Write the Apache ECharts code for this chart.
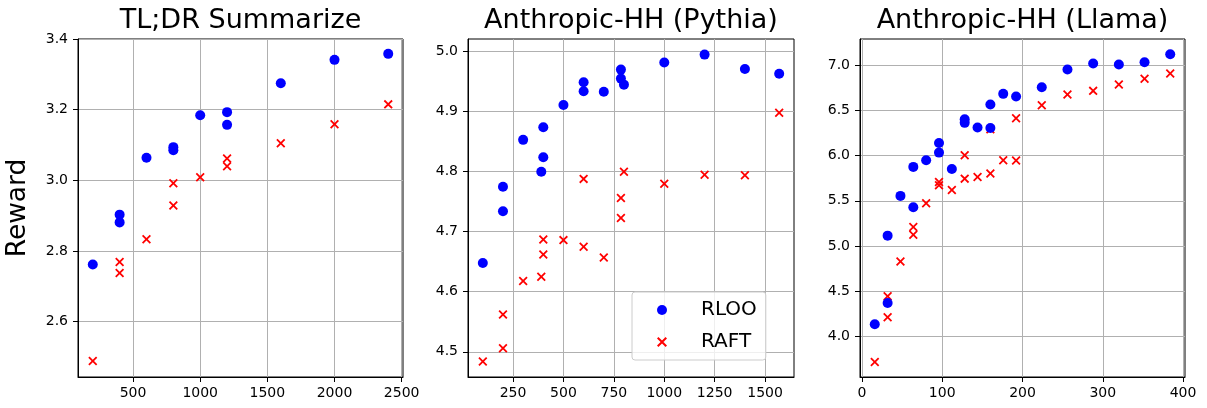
<!DOCTYPE html>
<html>
<head>
<meta charset="utf-8">
<script src="https://cdn.jsdelivr.net/npm/echarts@6/dist/echarts.min.js"></script>
<style>
    html, body { margin: 0; padding: 0; background: #fff; }
    #main { width: 1207px; height: 408px; }
</style>
</head>
<body>
<div id="main"></div>
<script>
// TL;DR
const tldrX = [200, 400, 400, 600, 800, 800, 1000, 1200, 1200, 1600, 2000, 2400]
const tldrRloo = [2.762, 2.903, 2.881, 3.064, 3.094, 3.085, 3.184, 3.193, 3.157, 3.275, 3.341, 3.358]
const tldrRaft = [2.489, 2.769, 2.738, 2.833, 2.992, 2.929, 3.009, 3.062, 3.040, 3.105, 3.159, 3.215]

// Anthropic-HH (Pythia)
const pythiaX = [100, 200, 200, 300, 400, 400, 390, 500, 600, 600, 700, 785, 785, 800, 1000, 1200, 1400, 1570]
const pythiaRloo = [4.648, 4.775, 4.734, 4.853, 4.874, 4.824, 4.800, 4.911, 4.949, 4.934, 4.933, 4.970, 4.955, 4.945, 4.982, 4.995, 4.971, 4.963]
const pythiaRaft = [4.484, 4.562, 4.506, 4.618, 4.687, 4.662, 4.625, 4.686, 4.788, 4.675, 4.657, 4.756, 4.723, 4.800, 4.780, 4.795, 4.794, 4.898]

// Anthropic-HH (Llama)
const llamaRlooX = [16, 32, 32, 48, 64, 64, 80, 96, 96, 112, 128, 128, 144, 160, 160, 176, 192, 224, 256, 288, 320, 352, 384]
const llamaRloo = [4.133, 5.114, 4.369, 5.554, 5.875, 5.428, 5.948, 6.140, 6.033, 5.852, 6.402, 6.362, 6.310, 6.565, 6.306, 6.683, 6.653, 6.756, 6.952, 7.018, 7.007, 7.033, 7.122]
const llamaRaftX = [16, 32, 32, 48, 64, 64, 80, 96, 96, 112, 128, 128, 144, 160, 160, 176, 192, 192, 224, 256, 288, 320, 352, 384]
const llamaRaft = [3.716, 4.443, 4.210, 4.827, 5.210, 5.125, 5.472, 5.708, 5.672, 5.620, 6.004, 5.745, 5.764, 5.801, 6.290, 5.948, 6.413, 5.945, 6.557, 6.675, 6.716, 6.786, 6.849, 6.908]

// tick labels
const titles = ['TL;DR Summarize', 'Anthropic-HH (Pythia)', 'Anthropic-HH (Llama)']
const xTicks = [[500, 1000, 1500, 2000, 2500], [250, 500, 750, 1000, 1250, 1500], [0, 100, 200, 300, 400]]
const yTicks = [[2.6, 2.8, 3.0, 3.2, 3.4], [4.5, 4.6, 4.7, 4.8, 4.9, 5.0], [4.0, 4.5, 5.0, 5.5, 6.0, 6.5, 7.0]]

const font = 'DejaVu Sans'
const xMark = 'path://M0,1.4L1.4,0L5,3.6L8.6,0L10,1.4L6.4,5L10,8.6L8.6,10L5,6.4L1.4,10L0,8.6L3.6,5Z'

const grids = [
    { left: 78, width: 325, top: 39, height: 338 },
    { left: 468, width: 326, top: 39, height: 338 },
    { left: 860, width: 325, top: 39, height: 338 }
]
const xRange = [[90, 2510], [26.5, 1643.5], [-2.4, 402.4]]
const yRange = [[2.4435, 3.4], [4.458, 5.021], [3.55, 7.29]]

function pairs (xs, ys) {
    return ys.map((y, i) => [xs[i], y])
}

let chart = echarts.init(document.getElementById('main'))

let xAxis = []
let yAxis = []
for (let i = 0; i < 3; i++) {
    xAxis.push({
        type: 'value',
        gridIndex: i,
        min: xRange[i][0],
        max: xRange[i][1],
        axisLine: { show: true, onZero: false, lineStyle: { color: '#000', width: 1 } },
        axisTick: { show: true, length: 5, customValues: xTicks[i], lineStyle: { color: '#000' } },
        axisLabel: {
            customValues: xTicks[i],
            margin: 9,
            color: '#000',
            fontSize: 14,
            fontFamily: font,
            formatter: v => String(v)
        },
        splitLine: { show: true, lineStyle: { color: '#b0b0b0', width: 1 } }
    })
    yAxis.push({
        type: 'value',
        gridIndex: i,
        min: yRange[i][0],
        max: yRange[i][1],
        axisLine: { show: true, onZero: false, lineStyle: { color: '#000', width: 1 } },
        axisTick: { show: true, length: 5, customValues: yTicks[i], lineStyle: { color: '#000' } },
        axisLabel: {
            customValues: yTicks[i],
            margin: 10,
            color: '#000',
            fontSize: 14,
            fontFamily: font,
            formatter: v => v.toFixed(1)
        },
        splitLine: { show: true, lineStyle: { color: '#b0b0b0', width: 1 } }
    })
}
yAxis[0].name = 'Reward'
yAxis[0].nameLocation = 'middle'
yAxis[0].nameGap = 46
yAxis[0].nameTextStyle = { fontSize: 26.5, fontFamily: font, color: '#000' }

const raftData = [pairs(tldrX, tldrRaft), pairs(pythiaX, pythiaRaft), pairs(llamaRaftX, llamaRaft)]
const rlooData = [pairs(tldrX, tldrRloo), pairs(pythiaX, pythiaRloo), pairs(llamaRlooX, llamaRloo)]

let series = []
for (let i = 0; i < 3; i++) {
    series.push({
        name: 'RAFT',
        type: 'scatter',
        xAxisIndex: i,
        yAxisIndex: i,
        symbol: xMark,
        symbolSize: 9,
        itemStyle: { color: '#ff0000', opacity: 1 },
        data: raftData[i]
    })
    series.push({
        name: 'RLOO',
        type: 'scatter',
        xAxisIndex: i,
        yAxisIndex: i,
        symbol: 'circle',
        symbolSize: 10,
        itemStyle: { color: '#0000ff', opacity: 1 },
        data: rlooData[i]
    })
}

chart.setOption({
    animation: false,
    textStyle: { fontFamily: font },
    title: titles.map((t, i) => ({
        text: t,
        left: grids[i].left + grids[i].width / 2 - 5,
        top: 2,
        textAlign: 'center',
        textStyle: { fontSize: 27, fontWeight: 'normal', color: '#000', fontFamily: font }
    })),
    grid: grids.map(g => Object.assign({ show: true, borderColor: '#000', borderWidth: 1, backgroundColor: 'transparent' }, g)),
    legend: {
        orient: 'vertical',
        left: 632,
        top: 292,
        padding: [8, 9, 8, 25],
        itemWidth: 10,
        itemHeight: 10,
        itemGap: 12,
        backgroundColor: 'rgba(255,255,255,0.8)',
        borderColor: '#cccccc',
        borderWidth: 1,
        borderRadius: 3,
        textStyle: { fontSize: 20, fontFamily: font, color: '#000', padding: [0, 0, 0, 29] },
        data: [
            { name: 'RLOO', icon: 'circle', itemStyle: { color: '#0000ff' } },
            { name: 'RAFT', icon: xMark, itemStyle: { color: '#ff0000' } }
        ]
    },
    xAxis: xAxis,
    yAxis: yAxis,
    series: series
})
</script>
</body>
</html>
